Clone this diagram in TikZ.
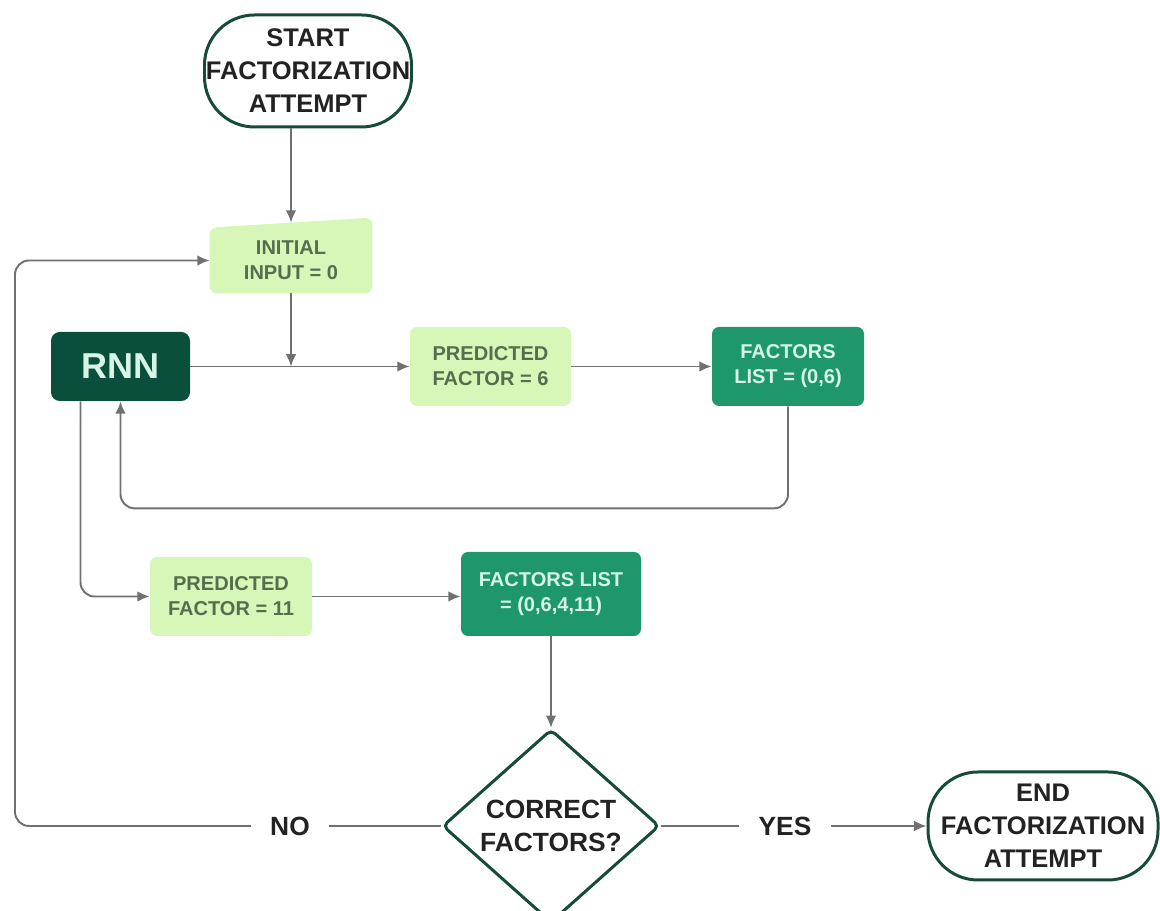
\documentclass[tikz,border=0pt]{standalone}
\usepackage{fontspec}
\setmainfont{Liberation Sans}
\usetikzlibrary{shapes}
\usetikzlibrary{calc}
\usetikzlibrary{positioning}
\usetikzlibrary{arrows.meta}
\usetikzlibrary{backgrounds}
\definecolor{darkEdge}{RGB}{22,74,58}
\definecolor{rnnFill}{RGB}{10,78,60}
\definecolor{lightFill}{RGB}{214,247,184}
\definecolor{lightText}{RGB}{88,108,78}
\definecolor{midFill}{RGB}{30,152,106}
\definecolor{midText}{RGB}{214,245,230}
\definecolor{lineGray}{RGB}{112,112,112}
\definecolor{textDark}{RGB}{34,34,34}

\begin{document}
\begin{tikzpicture}
			\tikzstyle{arrow}=[draw, lineGray, line width=1.1pt, -{Latex[length=7pt,width=6pt]}]
			\tikzstyle{line}=[draw, lineGray, line width=1.1pt]
			\tikzstyle{terminal}=[rectangle, rounded corners=1cm, draw=darkEdge, line width=1.7pt, fill=white, text=textDark, inner sep=0pt, align=center, font=\fontsize{14.5}{18.8}\selectfont\bfseries]
			\tikzstyle{lightbox}=[rectangle, rounded corners=4pt, fill=lightFill, text=lightText, align=center, minimum height=1.58cm, font=\fontsize{11.4}{14.2}\selectfont\bfseries]
			\tikzstyle{midbox}=[rectangle, rounded corners=4pt, fill=midFill, text=midText, align=center, font=\fontsize{11.4}{14.2}\selectfont\bfseries]
			\tikzstyle{answer}=[text=textDark, inner sep=0.38cm, font=\fontsize{15}{18}\selectfont\bfseries]
			\useasboundingbox (0, 0) rectangle (23.2, 18.22);

			\node[terminal, minimum width=4.14cm, minimum height=2.24cm] at (6.16, 16.8) (startNode) {START\\FACTORIZATION\\ATTEMPT};

			\node[align=center, text=lightText, minimum width=3.24cm, minimum height=1.3cm, font=\fontsize{11.4}{14.2}\selectfont\bfseries] at (5.82, 13.01) (inputNode) {INITIAL\\INPUT = 0};
			\begin{scope}[on background layer]
				\fill[lightFill, rounded corners=4pt] (inputNode.south west) -- (inputNode.south east) -- ($(inputNode.north east)+(0, 0.2)$) -- (inputNode.north west) -- cycle;
			\end{scope}
			\coordinate (inputTop) at ($(inputNode.north)+(0, 0.1)$);
	  		\path[arrow] (startNode.south -| inputTop) -- (inputTop);

			\node[rectangle, rounded corners=5pt, fill=rnnFill, text=midText, minimum width=2.78cm, minimum height=1.38cm, font=\fontsize{20.5}{24}\selectfont\bfseries] at (2.41, 10.89) (rnnNode) {RNN};

			\node[lightbox, minimum width=3.22cm] at (9.81, 10.89) (predictedOne) {PREDICTED\\FACTOR = 6};
			\node[midbox, minimum width=3.04cm, minimum height=1.58cm] at (15.76, 10.89) (factorsOne) {FACTORS\\LIST = (0,6)};

			\coordinate (joinPoint) at (inputNode.south |- rnnNode.east);
	  		\path[arrow] (inputNode.south) -- (joinPoint);
	  		\path[arrow] (rnnNode.east) -- (predictedOne.west);
	  		\path[arrow] (predictedOne) -- (factorsOne);

			\coordinate[below=2.04cm of factorsOne.south] (factorsOneBelow);
	  		\path[arrow, rounded corners=8pt] (factorsOne.south) -- (factorsOneBelow) -| (rnnNode.south);

			\node[lightbox, minimum width=3.24cm] at (4.62, 6.29) (predictedTwo) {PREDICTED\\FACTOR = 11};
			\node[midbox, minimum width=3.6cm, minimum height=1.68cm] at (11.02, 6.34) (factorsTwo) {FACTORS LIST\\= (0,6,4,11)};

			\coordinate[left=0.8cm of rnnNode.south] (rnnExit);
	  		\path[arrow, rounded corners=8pt] (rnnExit) |- (predictedTwo.west);
	  		\path[arrow] (predictedTwo.east) -- (predictedTwo.east -| factorsTwo.west);

			\node[diamond, draw=darkEdge, line width=1.7pt, rounded corners=3pt, fill=white, inner sep=0pt, minimum width=4.34cm, minimum height=3.44cm, align=center, text=textDark, font=\fontsize{15}{18.8}\selectfont\bfseries] at (11.02, 1.7) (checkNode) {CORRECT\\FACTORS?};
	  		\path[arrow] (factorsTwo.south) -- (checkNode.north);

			\node[terminal, minimum width=4.6cm, minimum height=2.16cm] at (20.86, 1.7) (endNode) {END\\FACTORIZATION\\ATTEMPT};

			\node[answer] at (15.7, 1.7) (yesLabel) {YES};
	  		\path[line] (checkNode.east) -- (yesLabel.west);
	  		\path[arrow] (yesLabel.east) -- (endNode.west);

			\node[answer] at (5.8, 1.7) (noLabel) {NO};
	  		\path[line] (checkNode.west) -- (noLabel.east);
			\coordinate (loopLeft) at (0.3, 1.7);
	  		\path[arrow, rounded corners=8pt] (noLabel.west) -- (loopLeft) |- (inputNode.west);
		\end{tikzpicture}
\end{document}
